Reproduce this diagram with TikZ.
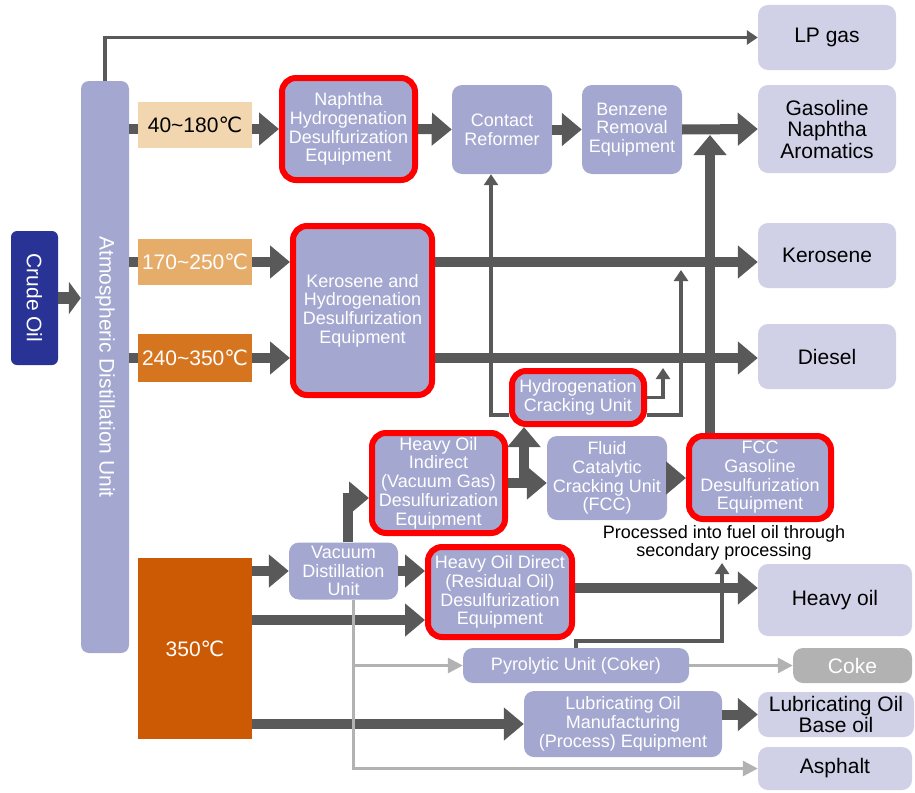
\documentclass[tikz,border=0pt]{standalone}
\usepackage{fontspec}
\setmainfont{Liberation Sans}
\newfontfamily\dejavu{DejaVu Sans}
\usetikzlibrary{arrows.meta}
\newcommand{\degC}{{\dejavu ℃}}
\definecolor{procfill}{RGB}{164,168,208}
\definecolor{prodfill}{RGB}{208,209,230}
\definecolor{crudeblue}{RGB}{41,51,150}
\definecolor{hdsred}{RGB}{255,0,0}
\definecolor{flowgray}{RGB}{89,89,89}
\definecolor{sidegray}{RGB}{178,178,178}
\definecolor{cutone}{RGB}{242,214,176}
\definecolor{cuttwo}{RGB}{230,172,106}
\definecolor{cutthree}{RGB}{214,117,31}
\definecolor{cutfour}{RGB}{204,90,4}
\tikzset{
  proc/.style={fill=procfill, text=white, rounded corners=10pt, align=center, inner sep=0pt,
    font=\fontsize{18}{18.7}\selectfont},
  hds/.style={proc, draw=hdsred, line width=6pt, rounded corners=14pt},
  prod/.style={fill=prodfill, rounded corners=10pt, align=center, inner sep=0pt,
    font=\fontsize{21}{21.5}\selectfont},
  cut/.style={text=white, minimum width=114pt, inner sep=0pt, font=\fontsize{21}{22}\selectfont},
  big/.style={font=\fontsize{21}{22}\selectfont},
  bigarrow/.style={draw=flowgray, line width=10pt, -{Triangle[length=20pt,width=32pt]}},
  stub/.style={draw=flowgray, line width=10pt},
  thinarrow/.style={draw=flowgray, line width=3.5pt, -{Triangle[length=11pt,width=14pt]}},
  greyarrow/.style={draw=sidegray, line width=3pt, -{Triangle[length=15pt,width=15pt]}}
}
\begin{document}
\begin{tikzpicture}[x=1pt,y=-1pt]
\useasboundingbox (0,0) rectangle (915,792);

\node[proc, big, fill=crudeblue, rounded corners=6pt, minimum width=47pt, minimum height=134pt] (crude) at (34.5,298) {\rotatebox{-90}{Crude Oil}};
\node[proc, big, rounded corners=8pt, minimum width=48pt, minimum height=572pt] (adu) at (105,367) {\rotatebox{-90}{Atmospheric Distillation Unit}};

\node[cut, fill=cutone, text=black, minimum height=46pt] (cutA) at (195,125) {40\textasciitilde180\degC};
\node[cut, fill=cuttwo, minimum height=46pt] (cutB) at (195,262) {170\textasciitilde250\degC};
\node[cut, fill=cutthree, minimum height=48pt] (cutC) at (195,358) {240\textasciitilde350\degC};
\node[cut, fill=cutfour, minimum height=181pt] (cutD) at (195,648.5) {350\degC};

\node[prod, minimum width=138pt, minimum height=65pt] (lpg) at (827,37.5) {LP gas};
\node[prod, minimum width=138pt, minimum height=88pt] (gasoline) at (827,129) {Gasoline\\Naphtha\\Aromatics};
\node[prod, minimum width=138pt, minimum height=65pt] (kerosene) at (827,255.5) {Kerosene};
\node[prod, minimum width=138pt, minimum height=65pt] (diesel) at (827,356.5) {Diesel};
\node[prod, minimum width=154pt, minimum height=72pt] (heavyoil) at (835,600) {Heavy oil};
\node[prod, fill=sidegray, text=white, minimum width=119pt, minimum height=35pt] (coke) at (852.5,665.5) {Coke};
\node[prod, minimum width=156pt, minimum height=45pt] (lubeoil) at (836,714.5) {Lubricating Oil\\Base oil};
\node[prod, minimum width=154pt, minimum height=43pt] (asphalt) at (835,768.5) {Asphalt};

\node[hds, minimum width=133pt, minimum height=102pt] (naphds) at (348.5,129) {Naphtha\\Hydrogenation\\Desulfurization\\Equipment};
\node[proc, minimum width=100pt, minimum height=89pt] (reformer) at (502,129.5) {Contact\\Reformer};
\node[proc, minimum width=100pt, minimum height=89pt] (benzene) at (632,129.5) {Benzene\\Removal\\Equipment};
\node[hds, minimum width=139pt, minimum height=169pt] (kerhds) at (362.5,310.5) {Kerosene and\\Hydrogenation\\Desulfurization\\Equipment};
\node[hds, minimum width=132pt, minimum height=53pt] (hydrocrack) at (578,397.5) {Hydrogenation\\Cracking Unit};
\node[hds, minimum width=133pt, minimum height=100pt] (vgohds) at (438.5,483) {Heavy Oil\\Indirect\\(Vacuum Gas)\\Desulfurization\\Equipment};
\node[proc, minimum width=120pt, minimum height=84pt] (fcc) at (607,478) {Fluid\\Catalytic\\Cracking Unit\\(FCC)};
\node[hds, minimum width=142pt, minimum height=83pt] (fccgas) at (760,477.5) {FCC\\Gasoline\\Desulfurization\\Equipment};
\node[proc, minimum width=109pt, minimum height=57pt] (vacuum) at (343.5,571) {Vacuum\\Distillation\\Unit};
\node[hds, minimum width=144pt, minimum height=90pt] (resdhds) at (500,592) {Heavy Oil Direct\\(Residual Oil)\\Desulfurization\\Equipment};
\node[proc, minimum width=226pt, minimum height=35pt] (coker) at (576,665.5) {Pyrolytic Unit (Coker)};
\node[proc, minimum width=198pt, minimum height=66pt] (lubeplant) at (623,724) {Lubricating Oil\\Manufacturing\\(Process) Equipment};
\node[align=center, inner sep=0pt, font=\fontsize{18}{18}\selectfont] (note) at (724,543) {Processed into fuel oil through\\secondary processing};

\coordinate (gasjoin) at (710,135);
\coordinate (vgojoin) at (524,483);
\coordinate (kerjoin) at (681,270);
\coordinate (dsljoin) at (663,368);
\coordinate (fueljoin) at (722,563);
\coordinate (resin) at ([yshift=-28pt]resdhds.west);
\coordinate (resout) at ([yshift=4pt]resdhds.east);
\coordinate (vacout) at ([xshift=10pt]vacuum.south);

\draw[bigarrow, line width=12pt, -{Triangle[length=12pt,width=32pt]}] (crude.east) -- (crude.east -| adu.west);
\draw[stub] (adu.east |- naphds) -- (cutA.west |- naphds);
\draw[bigarrow] (cutA.east |- naphds) -- (naphds.west);
\draw[stub] (adu.east |- cutB) -- (cutB.west);
\draw[bigarrow] (cutB.east) -- (cutB.east -| kerhds.west);
\draw[stub] (adu.east |- cutC) -- (cutC.west);
\draw[bigarrow] (cutC.east) -- (cutC.east -| kerhds.west);
\draw[bigarrow] (naphds.east) -- (reformer.west);
\draw[bigarrow] (reformer.east) -- (benzene.west);
\draw[bigarrow] (benzene.east) -- (gasoline.west);
\draw[bigarrow] (kerhds.east |- cutB) -- (kerosene.west |- cutB);
\draw[bigarrow] (kerhds.east |- cutC) -- (diesel.west |- cutC);
\draw[bigarrow] ([xshift=-50pt]fccgas.north) -- (gasjoin);
\draw[bigarrow] ([xshift=4pt]vacuum.north) |- ([yshift=-15pt]vgohds.west);
\draw[bigarrow] (vgohds.east) -- (fcc.west |- vgohds.east);
\draw[bigarrow] (vgojoin) -- (vgojoin |- hydrocrack.south);
\draw[bigarrow] (fcc.east) -- (fccgas.west |- fcc.east);
\draw[bigarrow] (cutD.east |- vacuum) -- (vacuum.west);
\draw[bigarrow] (vacuum.east) -- (vacuum.east -| resdhds.west);
\draw[bigarrow] (cutD.east |- resin) -- (resin);
\draw[bigarrow] (resout) -- (heavyoil.west |- resout);
\draw[bigarrow] (cutD.east |- lubeplant) -- (lubeplant.west);
\draw[bigarrow] (lubeplant.east |- lubeoil) -- (lubeoil.west);

\draw[thinarrow] (adu.north) |- (lpg.west);
\draw[thinarrow] ([yshift=-17.5pt]hydrocrack.west) -| ([xshift=-11pt]reformer.south);
\draw[thinarrow] ([yshift=-17.5pt]hydrocrack.east) -| (kerjoin);
\draw[thinarrow] (hydrocrack.east) -| (dsljoin);
\draw[thinarrow] (coker.north) -- ++(0,-7) -| (fueljoin);

\draw[greyarrow] (vacout) |- (asphalt.west);
\draw[greyarrow] (vacout |- coker.west) -- (coker.west);
\draw[greyarrow] (coker.east) -- (coke.west);
\end{tikzpicture}
\end{document}
